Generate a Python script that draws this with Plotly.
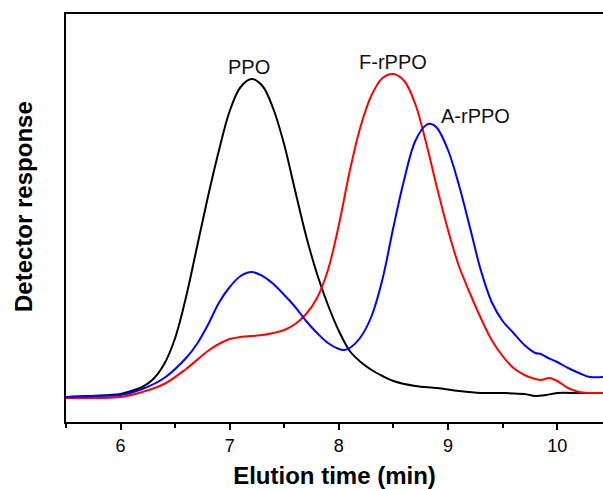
import plotly.graph_objects as go

# Elution time (min) and detector response (arbitrary units)
ppo_t = [5.5, 5.7, 5.9, 6.0, 6.1, 6.2, 6.3, 6.4, 6.5, 6.6, 6.7, 6.8, 6.9, 7.0, 7.1, 7.2,
         7.3, 7.4, 7.5, 7.6, 7.7, 7.8, 7.9, 8.0, 8.1, 8.2, 8.3, 8.4, 8.5, 8.7, 8.9,
         9.1, 9.3, 9.5, 9.7, 9.8, 9.9, 10.0, 10.2, 10.42]
ppo_v = [25, 26, 27, 28, 31, 35, 43, 58, 84, 125, 175, 225, 271, 311, 335, 343,
         336, 313, 277, 231, 186, 148, 117, 91, 71, 60, 52, 46, 41, 36, 34,
         31, 29, 29, 28, 26, 27, 29, 29, 29]

frppo_t = [5.5, 5.8, 6.0, 6.2, 6.4, 6.6, 6.8, 6.9, 7.0, 7.1, 7.2, 7.3, 7.4, 7.5, 7.6, 7.7,
           7.8, 7.9, 8.0, 8.1, 8.2, 8.3, 8.4, 8.5, 8.6, 8.7, 8.8, 8.9, 9.0, 9.1, 9.2,
           9.3, 9.4, 9.5, 9.6, 9.7, 9.8, 9.85, 9.93, 10.0, 10.1, 10.2, 10.3, 10.42]
frppo_v = [24, 24, 25, 30, 38, 53, 71, 78, 83, 85, 86, 87, 89, 92, 98, 108,
           124, 152, 197, 251, 296, 327, 344, 348, 341, 318, 279, 234, 192, 156, 129,
           104, 82, 66, 54, 47, 43, 42, 44, 41, 34, 30, 29, 29]

arppo_t = [5.5, 5.8, 6.0, 6.2, 6.4, 6.6, 6.7, 6.8, 6.9, 7.0, 7.1, 7.2, 7.3, 7.4, 7.5, 7.6,
           7.7, 7.8, 7.9, 8.0, 8.05, 8.1, 8.2, 8.3, 8.4, 8.5, 8.6, 8.7, 8.8, 8.85, 8.9,
           9.0, 9.1, 9.2, 9.3, 9.4, 9.5, 9.6, 9.7, 9.8, 9.85, 9.9, 10.0, 10.1, 10.2,
           10.3, 10.42]
arppo_v = [25, 26, 27, 33, 44, 64, 78, 97, 119, 135, 146, 150, 146, 138, 127, 115,
           101, 89, 79, 73, 72, 74, 85, 106, 143, 195, 243, 281, 297, 298, 294,
           272, 237, 195, 152, 120, 101, 89, 77, 69, 68, 65, 60, 54, 49,
           45, 45]

labels = ["PPO", "F-rPPO", "A-rPPO"]
label_t = [7.18, 8.50, 9.25]
label_v = [355, 360, 306]

x_ticks = [6, 7, 8, 9, 10]

FONT = "Liberation Sans, Arial, sans-serif"

fig = go.Figure()
for t, v, c, name in [(ppo_t, ppo_v, "#000000", "PPO"),
                      (frppo_t, frppo_v, "#ff0000", "F-rPPO"),
                      (arppo_t, arppo_v, "#0000ff", "A-rPPO")]:
    fig.add_trace(go.Scatter(x=t, y=v, mode="lines", name=name,
                             line=dict(color=c, width=2, shape="spline", smoothing=1.0)))

for txt, t, v in zip(labels, label_t, label_v):
    fig.add_annotation(x=t, y=v, text=txt, showarrow=False,
                       font=dict(family=FONT, size=20, color="#111111"))

# y-axis title placed as a rotated annotation (left of the plot, slightly above centre)
fig.add_annotation(xref="paper", yref="paper", x=(23 - 66) / 537, y=(422 - 207) / 408,
                   text="<b>Detector response</b>", textangle=-90, showarrow=False,
                   xanchor="center", yanchor="middle",
                   font=dict(family=FONT, size=24, color="black"))

fig.update_layout(
    width=603, height=489,
    margin=dict(l=66, r=0, t=14, b=67),
    paper_bgcolor="white", plot_bgcolor="white",
    showlegend=False,
    font=dict(family=FONT, color="black"),
)
fig.update_xaxes(
    range=[5.5, 10.42], tickvals=x_ticks, ticktext=[str(v) for v in x_ticks],
    ticks="outside", ticklen=6, tickwidth=1.5, tickcolor="black",
    minor=dict(dtick=0.5, tick0=5.5, ticks="outside", ticklen=4, tickwidth=1.5, tickcolor="black"),
    showline=True, linecolor="black", linewidth=2, mirror=True,
    showgrid=False, zeroline=False,
    tickfont=dict(family=FONT, size=18, color="black"),
    title=dict(text="<b>Elution time (min)</b>", font=dict(family=FONT, size=24, color="black"),
               standoff=14),
)
fig.update_yaxes(
    range=[0, 408], showticklabels=False, ticks="",
    showline=True, linecolor="black", linewidth=2, mirror=False,
    showgrid=False, zeroline=False,
)

fig.write_html("out.html")
